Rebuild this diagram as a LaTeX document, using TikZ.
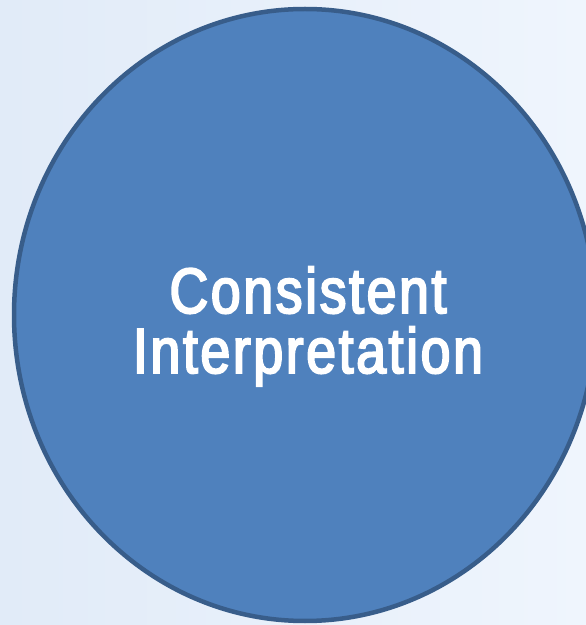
\documentclass[tikz,border=0pt]{standalone}
\usepackage{fontspec}
\setmainfont{Liberation Sans}[FakeStretch=0.84, FakeBold=3, LetterSpace=4]
\usepackage{tikz}
\usetikzlibrary{calc}
\usepackage{xcolor}

\definecolor{bgleft}{HTML}{E1EBF8}
\definecolor{bgright}{HTML}{EFF5FD}
\definecolor{discfill}{HTML}{4F81BD}
\definecolor{discline}{HTML}{385D8A}

\tikzset{
  disc/.style={fill=discfill, draw=discline, line width=4.5pt},
  label/.style={text=white, font=\fontsize{64}{60}\selectfont, inner sep=0pt, anchor=base}
}

\begin{document}
\begin{tikzpicture}[x=1pt,y=1pt]
    % background
    \shade[left color=bgleft, right color=bgright] (0,0) rectangle (586,625);
    \useasboundingbox (0,0) rectangle (586,625);

    \coordinate (O) at (305,310);
    \draw[disc] (O) ellipse [x radius=291, y radius=306];

    \node[label] (top) at (308,312) {Consistent};
    \node[label] (bottom) at (308,252) {Interpretation};
\end{tikzpicture}
\end{document}
